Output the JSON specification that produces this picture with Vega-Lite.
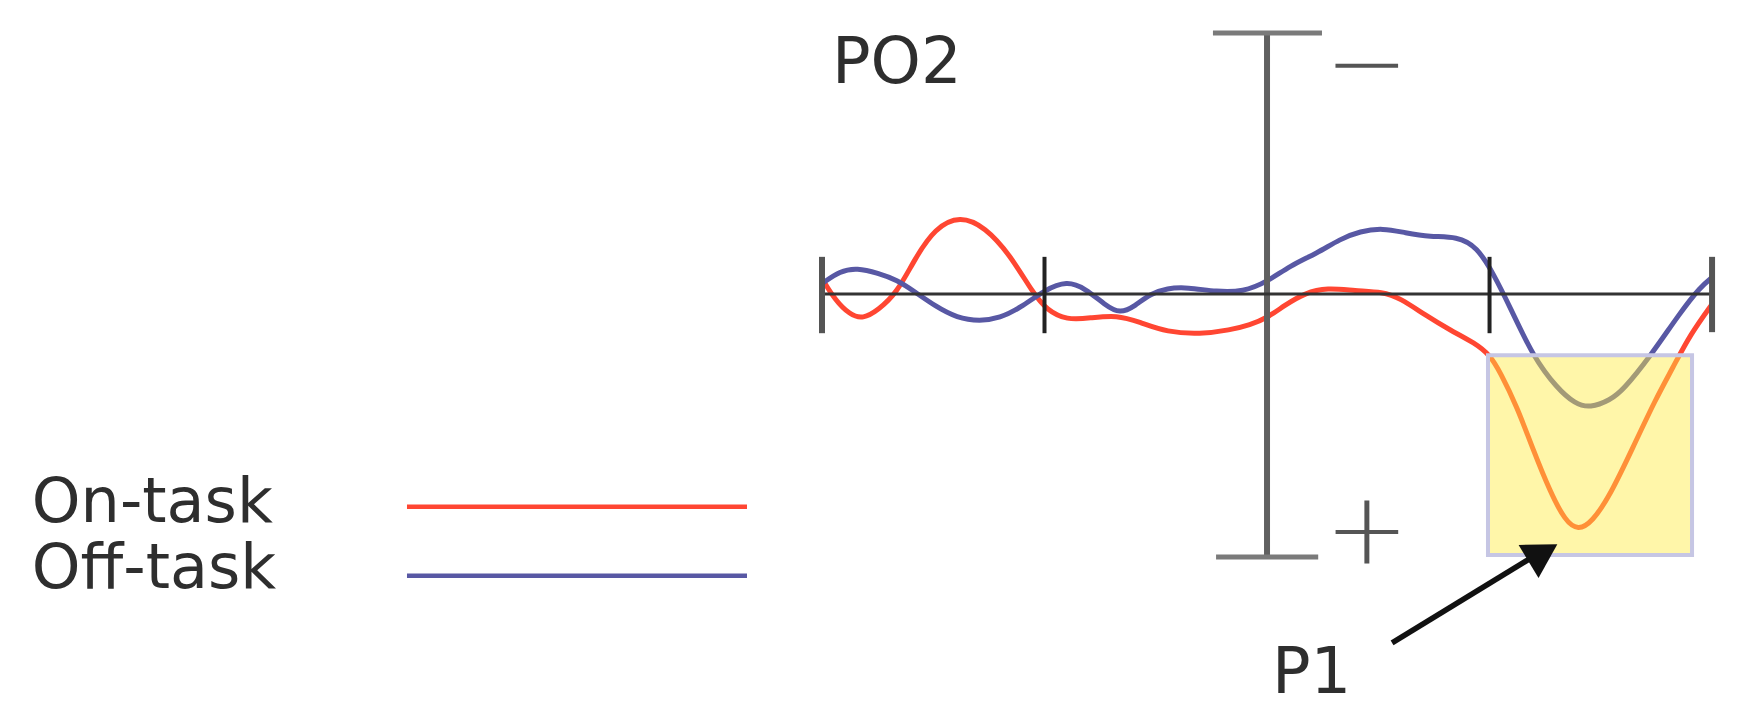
{
  "$schema": "https://vega.github.io/schema/vega-lite/v6.json",
  "width": 1751,
  "height": 722,
  "autosize": {"type": "fit", "contains": "padding"},
  "padding": 0,
  "background": "white",
  "config": {"view": {"stroke": null}},
  "datasets": {
    "waves": [
      {"cond": "On-task", "t": -199.6, "v": -0.27},
      {"cond": "On-task", "t": -194.2, "v": 0.11},
      {"cond": "On-task", "t": -187.4, "v": 0.40},
      {"cond": "On-task", "t": -181.6, "v": 0.48},
      {"cond": "On-task", "t": -174.8, "v": 0.31},
      {"cond": "On-task", "t": -166.3, "v": -0.02},
      {"cond": "On-task", "t": -158.2, "v": -0.68},
      {"cond": "On-task", "t": -149.2, "v": -1.26},
      {"cond": "On-task", "t": -138.0, "v": -1.50},
      {"cond": "On-task", "t": -126.7, "v": -1.28},
      {"cond": "On-task", "t": -115.5, "v": -0.75},
      {"cond": "On-task", "t": -105.2, "v": -0.02},
      {"cond": "On-task", "t": -98.9, "v": 0.31},
      {"cond": "On-task", "t": -89.9, "v": 0.50},
      {"cond": "On-task", "t": -79.6, "v": 0.46},
      {"cond": "On-task", "t": -67.4, "v": 0.40},
      {"cond": "On-task", "t": -57.1, "v": 0.54},
      {"cond": "On-task", "t": -44.9, "v": 0.73},
      {"cond": "On-task", "t": -30.1, "v": 0.77},
      {"cond": "On-task", "t": -16.6, "v": 0.69},
      {"cond": "On-task", "t": -7.6, "v": 0.59},
      {"cond": "On-task", "t": 0.0, "v": 0.46},
      {"cond": "On-task", "t": 8.1, "v": 0.21},
      {"cond": "On-task", "t": 17.1, "v": -0.02},
      {"cond": "On-task", "t": 27.0, "v": -0.12},
      {"cond": "On-task", "t": 39.6, "v": -0.06},
      {"cond": "On-task", "t": 52.1, "v": -0.04},
      {"cond": "On-task", "t": 59.8, "v": 0.08},
      {"cond": "On-task", "t": 71.0, "v": 0.40},
      {"cond": "On-task", "t": 82.2, "v": 0.69},
      {"cond": "On-task", "t": 93.5, "v": 0.94},
      {"cond": "On-task", "t": 100.2, "v": 1.17},
      {"cond": "On-task", "t": 104.7, "v": 1.49},
      {"cond": "On-task", "t": 112.4, "v": 2.16},
      {"cond": "On-task", "t": 119.6, "v": 2.98},
      {"cond": "On-task", "t": 127.2, "v": 3.78},
      {"cond": "On-task", "t": 134.0, "v": 4.34},
      {"cond": "On-task", "t": 139.8, "v": 4.52},
      {"cond": "On-task", "t": 146.1, "v": 4.36},
      {"cond": "On-task", "t": 154.2, "v": 3.85},
      {"cond": "On-task", "t": 164.5, "v": 2.93},
      {"cond": "On-task", "t": 174.4, "v": 2.03},
      {"cond": "On-task", "t": 182.5, "v": 1.40},
      {"cond": "On-task", "t": 190.1, "v": 0.78},
      {"cond": "On-task", "t": 200.4, "v": 0.17},
      {"cond": "Off-task", "t": -199.6, "v": -0.21},
      {"cond": "Off-task", "t": -191.9, "v": -0.44},
      {"cond": "Off-task", "t": -184.3, "v": -0.50},
      {"cond": "Off-task", "t": -174.8, "v": -0.40},
      {"cond": "Off-task", "t": -166.3, "v": -0.27},
      {"cond": "Off-task", "t": -158.2, "v": -0.04},
      {"cond": "Off-task", "t": -149.2, "v": 0.23},
      {"cond": "Off-task", "t": -139.3, "v": 0.46},
      {"cond": "Off-task", "t": -129.0, "v": 0.52},
      {"cond": "Off-task", "t": -120.0, "v": 0.46},
      {"cond": "Off-task", "t": -111.0, "v": 0.27},
      {"cond": "Off-task", "t": -99.8, "v": -0.08},
      {"cond": "Off-task", "t": -89.9, "v": -0.25},
      {"cond": "Off-task", "t": -81.8, "v": -0.11},
      {"cond": "Off-task", "t": -72.8, "v": 0.21},
      {"cond": "Off-task", "t": -66.1, "v": 0.38},
      {"cond": "Off-task", "t": -59.3, "v": 0.23},
      {"cond": "Off-task", "t": -52.6, "v": 0.0},
      {"cond": "Off-task", "t": -44.9, "v": -0.11},
      {"cond": "Off-task", "t": -36.0, "v": -0.13},
      {"cond": "Off-task", "t": -22.5, "v": -0.04},
      {"cond": "Off-task", "t": -10.8, "v": -0.04},
      {"cond": "Off-task", "t": 0.0, "v": -0.23},
      {"cond": "Off-task", "t": 10.3, "v": -0.54},
      {"cond": "Off-task", "t": 22.5, "v": -0.78},
      {"cond": "Off-task", "t": 32.8, "v": -1.05},
      {"cond": "Off-task", "t": 41.8, "v": -1.20},
      {"cond": "Off-task", "t": 52.1, "v": -1.26},
      {"cond": "Off-task", "t": 62.0, "v": -1.17},
      {"cond": "Off-task", "t": 73.3, "v": -1.09},
      {"cond": "Off-task", "t": 85.4, "v": -1.10},
      {"cond": "Off-task", "t": 94.4, "v": -0.90},
      {"cond": "Off-task", "t": 101.6, "v": -0.40},
      {"cond": "Off-task", "t": 109.2, "v": 0.25},
      {"cond": "Off-task", "t": 119.6, "v": 1.20},
      {"cond": "Off-task", "t": 130.3, "v": 1.80},
      {"cond": "Off-task", "t": 138.4, "v": 2.10},
      {"cond": "Off-task", "t": 145.2, "v": 2.18},
      {"cond": "Off-task", "t": 154.2, "v": 2.03},
      {"cond": "Off-task", "t": 160.0, "v": 1.84},
      {"cond": "Off-task", "t": 172.1, "v": 1.20},
      {"cond": "Off-task", "t": 185.6, "v": 0.36},
      {"cond": "Off-task", "t": 194.6, "v": -0.13},
      {"cond": "Off-task", "t": 200.4, "v": -0.33}
    ],
    "box": [{"t": 99.3, "v": 1.17, "t2": 191.0, "v2": 4.99}],
    "axes": [
      {"part": "baseline", "t": -200, "v": 0, "t2": 200, "v2": 0},
      {"part": "vaxis", "t": 0, "v": -4.99, "t2": 0, "v2": 5.03},
      {"part": "cap", "t": -24.3, "v": -4.99, "t2": 24.7, "v2": -4.99},
      {"part": "cap", "t": -22.9, "v": 5.03, "t2": 23.0, "v2": 5.03},
      {"part": "tickgrey", "t": -200, "v": -0.71, "t2": -200, "v2": 0.75},
      {"part": "tickgrey", "t": 200, "v": -0.71, "t2": 200, "v2": 0.73},
      {"part": "tickdark", "t": -100, "v": -0.71, "t2": -100, "v2": 0.75},
      {"part": "tickdark", "t": 100, "v": -0.71, "t2": 100, "v2": 0.75}
    ],
    "legendLines": [
      {"cond": "On-task", "t": -386.5, "v": 4.07, "t2": -233.7},
      {"cond": "Off-task", "t": -386.5, "v": 5.39, "t2": -233.7}
    ],
    "legendText": [
      {"label": "On-task", "t": -555.1, "v": 4.36},
      {"label": "Off-task", "t": -555.1, "v": 5.62}
    ],
    "titles": [
      {"label": "PO2", "t": -195.5, "v": -4.03},
      {"label": "P1", "t": 2.2, "v": 7.63}
    ],
    "signs": [
      {"label": "−", "t": 44.9, "v": -4.34},
      {"label": "+", "t": 44.9, "v": 4.57}
    ],
    "arrowLine": [{"t": 56.2, "v": 6.67, "t2": 118.2, "v2": 5.06}],
    "arrowHead": [{"t": 124.0, "v": 4.95}]
  },
  "encoding": {
    "x": {"field": "t", "type": "quantitative", "scale": {"domain": [-569.4, 217.5], "nice": false, "zero": false}, "axis": null},
    "y": {"field": "v", "type": "quantitative", "scale": {"domain": [-5.621, 8.184], "reverse": true, "nice": false, "zero": false}, "axis": null}
  },
  "layer": [
    {
      "data": {"name": "waves"},
      "mark": {"type": "line", "strokeWidth": 5, "interpolate": "basis"},
      "encoding": {
        "color": {"field": "cond", "type": "nominal", "scale": {"domain": ["On-task", "Off-task"], "range": ["#ff4632", "#5858a4"]}, "legend": null},
        "order": {"field": "t", "type": "quantitative"}
      }
    },
    {
      "data": {"name": "box"},
      "mark": {"type": "rect", "fill": "#ffec40", "fillOpacity": 0.45, "stroke": "#c6c6e4", "strokeWidth": 4},
      "encoding": {"x2": {"field": "t2"}, "y2": {"field": "v2"}}
    },
    {
      "data": {"name": "axes"},
      "transform": [{"filter": "datum.part === 'vaxis'"}],
      "mark": {"type": "rule", "color": "#606060", "strokeWidth": 6},
      "encoding": {"x2": {"field": "t2"}, "y2": {"field": "v2"}}
    },
    {
      "data": {"name": "axes"},
      "transform": [{"filter": "datum.part === 'cap'"}],
      "mark": {"type": "rule", "color": "#7a7a7a", "strokeWidth": 5},
      "encoding": {"x2": {"field": "t2"}, "y2": {"field": "v2"}}
    },
    {
      "data": {"name": "axes"},
      "transform": [{"filter": "datum.part === 'baseline'"}],
      "mark": {"type": "rule", "color": "#333333", "strokeWidth": 3},
      "encoding": {"x2": {"field": "t2"}, "y2": {"field": "v2"}}
    },
    {
      "data": {"name": "axes"},
      "transform": [{"filter": "datum.part === 'tickgrey'"}],
      "mark": {"type": "rule", "color": "#555555", "strokeWidth": 6},
      "encoding": {"x2": {"field": "t2"}, "y2": {"field": "v2"}}
    },
    {
      "data": {"name": "axes"},
      "transform": [{"filter": "datum.part === 'tickdark'"}],
      "mark": {"type": "rule", "color": "#222222", "strokeWidth": 4},
      "encoding": {"x2": {"field": "t2"}, "y2": {"field": "v2"}}
    },
    {
      "data": {"name": "legendLines"},
      "mark": {"type": "rule", "strokeWidth": 4.5},
      "encoding": {
        "x2": {"field": "t2"},
        "color": {"field": "cond", "type": "nominal", "legend": null}
      }
    },
    {
      "data": {"name": "legendText"},
      "mark": {"type": "text", "align": "left", "baseline": "alphabetic", "font": "DejaVu Sans", "fontSize": 62, "color": "#2e2e2e"},
      "encoding": {"text": {"field": "label"}}
    },
    {
      "data": {"name": "titles"},
      "mark": {"type": "text", "align": "left", "baseline": "alphabetic", "font": "DejaVu Sans", "fontSize": 64, "color": "#2e2e2e"},
      "encoding": {"text": {"field": "label"}}
    },
    {
      "data": {"name": "signs"},
      "mark": {"type": "text", "align": "center", "baseline": "middle", "font": "DejaVu Sans", "fontWeight": 200, "fontSize": 100, "color": "#555555"},
      "encoding": {"text": {"field": "label"}}
    },
    {
      "data": {"name": "arrowLine"},
      "mark": {"type": "rule", "color": "#111111", "strokeWidth": 5.5},
      "encoding": {"x2": {"field": "t2"}, "y2": {"field": "v2"}}
    },
    {
      "data": {"name": "arrowHead"},
      "mark": {"type": "point", "shape": "triangle-up", "filled": true, "color": "#111111", "size": 1500, "angle": 59, "opacity": 1}
    }
  ]
}
